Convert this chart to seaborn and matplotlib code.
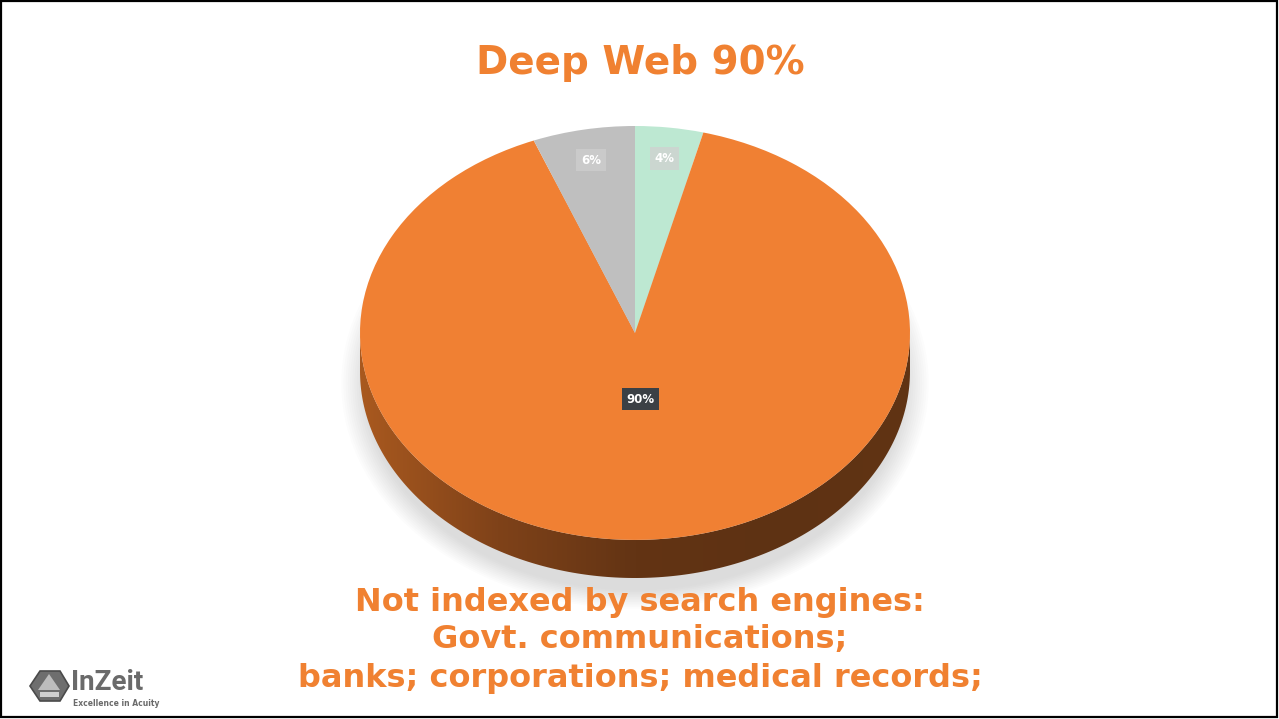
import numpy as np
import matplotlib
matplotlib.use("Agg")
import matplotlib.pyplot as plt
from matplotlib.patches import PathPatch, Ellipse, Polygon, Rectangle
from matplotlib.path import Path
from matplotlib.colors import LinearSegmentedColormap
import seaborn as sns

# ---- data ----
segments = ["Surface Web", "Deep Web", "Dark Web"]
shares = [4, 90, 6]
segment_colors = ["#BDE8D2", "#F08033", "#BFBFBF"]
title = "Deep Web 90%"
caption_lines = ["Not indexed by search engines:",
                 "Govt. communications;",
                 "banks; corporations; medical records;"]

sns.set_theme(style="white")
plt.rcParams["font.family"] = ["DejaVu Sans"]

W, H = 1279, 719
fig = plt.figure(figsize=(W / 100, H / 100), dpi=100)
fig.patch.set_facecolor("white")


def fx(px):
    return px / W


def fy(py):
    return 1 - py / H


# frame around the slide
fig.add_artist(Rectangle((fx(1), fy(717)), fx(1276), (716) / H, transform=fig.transFigure,
                         fill=False, edgecolor="black", linewidth=1.6))

ORANGE = "#F08131"
fig.text(fx(640), fy(63), title, ha="center", va="center", fontsize=28,
         fontweight="bold", color=ORANGE)

for line, ypix in zip(caption_lines, [603, 639, 678]):
    fig.text(fx(640), fy(ypix), line, ha="center", va="center", fontsize=23,
             fontweight="bold", color=ORANGE)

# ---- 3D-looking pie ----
left, right, top, bottom = 360, 910, 126, 578
depth_units = 0.184
ax = fig.add_axes([fx(left), fy(bottom), (right - left) / W, (bottom - top) / H])
ax.set_axis_off()

# soft drop shadow under the cylinder
for i in range(12):
    s = 1.0 + 0.008 * i
    e = Ellipse((0, -depth_units - 0.06), 2 * s - 0.04, 2 * s * 1.0, facecolor="#8a8a8a",
                edgecolor="none", alpha=0.022, zorder=0, clip_on=False)
    ax.add_patch(e)

# side wall of the cylinder
t = np.linspace(np.pi, 2 * np.pi, 200)
upper = np.column_stack([np.cos(t), np.sin(t)])
lower = np.column_stack([np.cos(t[::-1]), np.sin(t[::-1]) - depth_units])
band = Path(np.vstack([upper, lower, upper[:1]]), closed=True)
band_patch = PathPatch(band, facecolor="none", edgecolor="none", zorder=1)
ax.add_patch(band_patch)
side_cmap = LinearSegmentedColormap.from_list(
    "side", ["#A9591F", "#7F4219", "#633414", "#5E3213", "#613414"])
grad = np.linspace(0, 1, 256).reshape(1, -1)
img = ax.imshow(grad, cmap=side_cmap, extent=[-1, 1, -1 - depth_units, 0.05],
                aspect="auto", zorder=1, interpolation="bilinear")
img.set_clip_path(band_patch)

wedges, _ = ax.pie(shares, colors=segment_colors, startangle=90, counterclock=False,
                   radius=1, center=(0, 0), wedgeprops=dict(linewidth=0))
for w in wedges:
    w.set_zorder(2)

ax.set_aspect("auto")
ax.set_xlim(-1, 1)
ax.set_ylim(-1 - depth_units, 1)

# percentage labels
label_r = [0.85, 0.32, 0.85]
label_box = [("#D0D0D0", 0.75), ("#3B4045", 1.0), ("#CFCFCF", 0.75)]
start = 90.0
for val, r, (bc, ba) in zip(shares, label_r, label_box):
    mid = np.deg2rad(start - val * 3.6 / 2)
    start -= val * 3.6
    ax.text(r * np.cos(mid), r * np.sin(mid), f"{val}%", ha="center", va="center",
            fontsize=8.5, fontweight="bold", color="white", zorder=5,
            bbox=dict(boxstyle="square,pad=0.4", facecolor=bc, alpha=ba, edgecolor="none"))

# ---- logo ----
lax = fig.add_axes([0, 0, 1, 1], facecolor="none")
lax.set_xlim(0, W)
lax.set_ylim(H, 0)
lax.set_axis_off()
hexagon = Polygon([[30, 686], [40, 671], [60, 671], [69, 686], [60, 701], [40, 701]],
                  closed=True, facecolor="#6E6E6E", edgecolor="#4A4A4A", linewidth=1.2)
lax.add_patch(hexagon)
lax.add_patch(Polygon([[38, 690], [49, 674], [60, 690]], closed=True,
                      facecolor="#BDBDBD", edgecolor="none"))
lax.add_patch(Rectangle((40, 692), 19, 5, facecolor="#D0D0D0", edgecolor="none"))
lax.text(71, 683, "InZeit", ha="left", va="center", fontsize=20, fontweight="bold",
         color="#6A6A6A", family=["Roboto", "DejaVu Sans"])
lax.text(73, 704, "Excellence in Acuity", ha="left", va="center", fontsize=5.5,
         fontweight="bold", color="#6A6A6A")

fig.savefig("out.png", dpi=100, facecolor="white")
